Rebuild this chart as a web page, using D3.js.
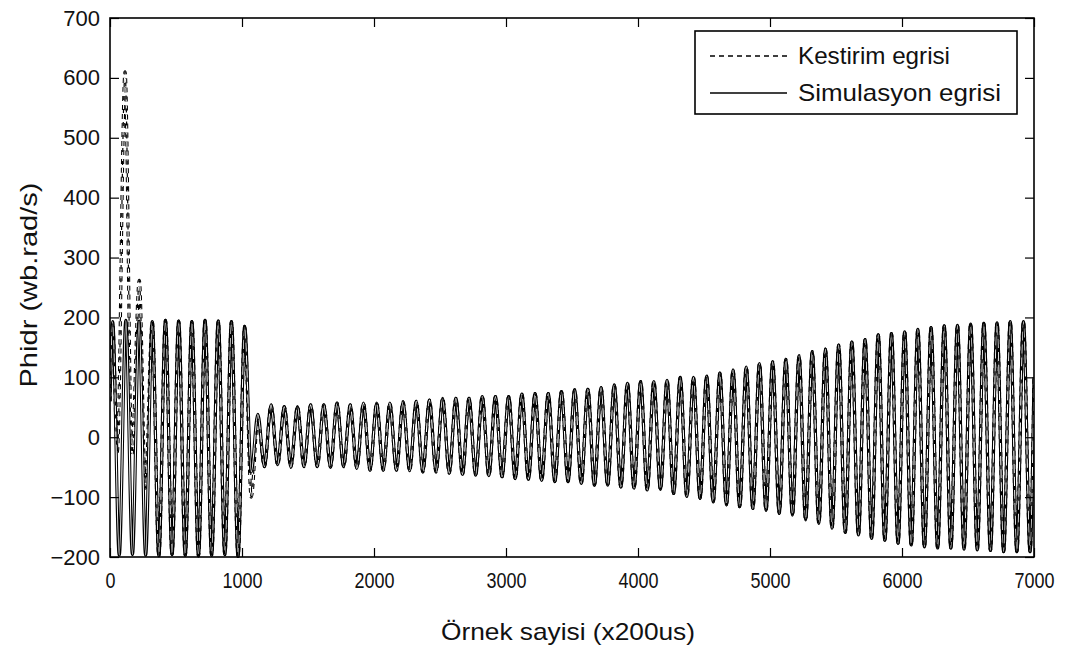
<!DOCTYPE html>
<html>
<head>
<meta charset="utf-8">
<script src="https://cdn.jsdelivr.net/npm/d3@7/dist/d3.min.js"></script>
<style>
  html, body { margin: 0; padding: 0; background: #fff; }
  svg { display: block; }
  text { font-family: "Liberation Sans", Arial, sans-serif; fill: #111; }
</style>
</head>
<body>
<svg id="chart" width="1068" height="653"></svg>
<script>
// Rotor flux (phi_dr) – simulated vs. estimated, sampled every 200 us.
// Each list holds the extrema of the 50 Hz oscillation (one peak and one
// trough per cycle), read per cycle.

const xTicks = [0, 1000, 2000, 3000, 4000, 5000, 6000, 7000];
const yTicks = [-200, -100, 0, 100, 200, 300, 400, 500, 600, 700];

const peakSamples = [
  20, 120, 220, 320, 420, 520, 620, 720, 820, 920,
  1020, 1120, 1220, 1320, 1420, 1520, 1620, 1720, 1820, 1920,
  2020, 2120, 2220, 2320, 2420, 2520, 2620, 2720, 2820, 2920,
  3020, 3120, 3220, 3320, 3420, 3520, 3620, 3720, 3820, 3920,
  4020, 4120, 4220, 4320, 4420, 4520, 4620, 4720, 4820, 4920,
  5020, 5120, 5220, 5320, 5420, 5520, 5620, 5720, 5820, 5920,
  6020, 6120, 6220, 6320, 6420, 6520, 6620, 6720, 6820, 6920
];
const peakValues = [
  193, 195, 194, 193, 195, 194, 193, 195, 194, 193,
  185, 38, 54, 51, 51, 54, 54, 57, 54, 57,
  57, 57, 59, 60, 62, 65, 65, 65, 68, 68,
  68, 72, 73, 73, 76, 79, 80, 83, 87, 90,
  93, 93, 95, 100, 100, 102, 107, 112, 117, 123,
  126, 130, 136, 143, 147, 154, 159, 163, 171, 173,
  176, 180, 183, 186, 187, 189, 190, 191, 193, 193
];
const troughSamples = [
  70, 170, 270, 370, 470, 570, 670, 770, 870, 970,
  1070, 1170, 1270, 1370, 1470, 1570, 1670, 1770, 1870, 1970,
  2070, 2170, 2270, 2370, 2470, 2570, 2670, 2770, 2870, 2970,
  3070, 3170, 3270, 3370, 3470, 3570, 3670, 3770, 3870, 3970,
  4070, 4170, 4270, 4370, 4470, 4570, 4670, 4770, 4870, 4970,
  5070, 5170, 5270, 5370, 5470, 5570, 5670, 5770, 5870, 5970,
  6070, 6170, 6270, 6370, 6470, 6570, 6670, 6770, 6870, 6970
];
const troughValues = [
  -197, -196, -197, -198, -196, -197, -198, -197, -196, -199,
  -58, -49, -46, -50, -49, -49, -50, -49, -52, -55,
  -55, -55, -56, -58, -58, -60, -62, -63, -64, -66,
  -69, -70, -72, -74, -74, -77, -80, -80, -83, -85,
  -88, -87, -94, -99, -102, -108, -113, -116, -119, -122,
  -127, -130, -138, -144, -152, -159, -163, -169, -172, -177,
  -180, -183, -185, -185, -187, -188, -189, -191, -191, -191
];
// first and last samples of the record
const edgeSamples = [0, 7000];
const edgeValues = [60, 100];

// estimator: start-up transient and the transient after the step at ~1000
const estStartSamples = [0, 20, 55, 114, 165, 222, 268];
const estStartValues = [60, 190, -25, 610, -30, 262, -85];
const estStepSamples = [1070, 1120];
const estStepValues = [-100, 30];

const seriesNames = ["Kestirim egrisi", "Simulasyon egrisi"];
const xLabel = "Örnek sayisi (x200us)";
const yLabel = "Phidr (wb.rad/s)";

// ---- build point lists --------------------------------------------------
const simulation = [];
simulation.push({ t: edgeSamples[0], v: edgeValues[0] });
peakSamples.forEach((t, i) => {
  simulation.push({ t, v: peakValues[i] });
  simulation.push({ t: troughSamples[i], v: troughValues[i] });
});
simulation.push({ t: edgeSamples[1], v: edgeValues[1] });

const estimate = []
  .concat(estStartSamples.map((t, i) => ({ t, v: estStartValues[i] })))
  .concat(simulation.filter(d => d.t >= 300 && d.t <= 1030))
  .concat(estStepSamples.map((t, i) => ({ t, v: estStepValues[i] })))
  .concat(simulation.filter(d => d.t >= 1160));

// ---- layout ---------------------------------------------------------------
const svg = d3.select("#chart");
const box = { left: 110, right: 1034, top: 18, bottom: 557 };

const x = d3.scaleLinear().domain([0, 7000]).range([box.left, box.right]);
const y = d3.scaleLinear().domain([-200, 700]).range([box.bottom, box.top]);

svg.append("defs").append("clipPath").attr("id", "plotClip")
  .append("rect")
  .attr("x", box.left).attr("y", box.top - 1)
  .attr("width", box.right - box.left).attr("height", box.bottom - box.top + 2);

const line = d3.line()
  .x(d => x(d.t))
  .y(d => y(d.v))
  .curve(d3.curveMonotoneX);

const plot = svg.append("g").attr("clip-path", "url(#plotClip)");

// estimated curve (dashed, hollow stroke)
plot.append("path").datum(estimate)
  .attr("d", line).attr("fill", "none")
  .attr("stroke", "#000").attr("stroke-width", 3.2)
  .attr("stroke-dasharray", "5,4");
plot.append("path").datum(estimate)
  .attr("d", line).attr("fill", "none")
  .attr("stroke", "#fff").attr("stroke-width", 1.1)
  .attr("stroke-dasharray", "5,4");

// simulated curve (solid, hollow stroke)
plot.append("path").datum(simulation)
  .attr("d", line).attr("fill", "none")
  .attr("stroke", "#000").attr("stroke-width", 3.2);
plot.append("path").datum(simulation)
  .attr("d", line).attr("fill", "none")
  .attr("stroke", "#fff").attr("stroke-width", 1.1);

// estimated curve core, partly filling the hollow strokes
plot.append("path").datum(estimate)
  .attr("d", line).attr("fill", "none")
  .attr("stroke", "#000").attr("stroke-width", 1.2)
  .attr("stroke-dasharray", "4,9");

// ---- axes (ticks inside, on all four sides) ------------------------------
const tickLen = 9;
function styleAxis(g) {
  g.select(".domain").remove();
  g.selectAll(".tick line").attr("stroke", "#000").attr("stroke-width", 1.2);
}

svg.append("g").attr("transform", `translate(0,${box.bottom})`)
  .call(d3.axisBottom(x).tickValues(xTicks).tickSize(-tickLen).tickPadding(15).tickFormat(d3.format("d")))
  .call(styleAxis)
  .call(g => g.selectAll(".tick text")
    .attr("font-size", 22).attr("fill", "#111")
    .attr("textLength", d => String(d).length * 10)
    .attr("lengthAdjust", "spacingAndGlyphs"));
svg.append("g").attr("transform", `translate(0,${box.top})`)
  .call(d3.axisTop(x).tickValues(xTicks).tickSize(-tickLen).tickFormat(""))
  .call(styleAxis);
svg.append("g").attr("transform", `translate(${box.left},0)`)
  .call(d3.axisLeft(y).tickValues(yTicks).tickSize(-tickLen).tickPadding(10).tickFormat(d3.format("d")))
  .call(styleAxis)
  .call(g => g.selectAll(".tick text").attr("font-size", 22).attr("fill", "#111"));
svg.append("g").attr("transform", `translate(${box.right},0)`)
  .call(d3.axisRight(y).tickValues(yTicks).tickSize(-tickLen).tickFormat(""))
  .call(styleAxis);

// frame
svg.append("rect")
  .attr("x", box.left).attr("y", box.top)
  .attr("width", box.right - box.left).attr("height", box.bottom - box.top)
  .attr("fill", "none").attr("stroke", "#000").attr("stroke-width", 1.6);

// ---- axis titles -----------------------------------------------------------
svg.append("text")
  .attr("x", 568).attr("y", 640)
  .attr("text-anchor", "middle").attr("font-size", 24)
  .attr("textLength", 254).attr("lengthAdjust", "spacingAndGlyphs")
  .text(xLabel);

svg.append("text")
  .attr("transform", `translate(37,285) rotate(-90)`)
  .attr("text-anchor", "middle").attr("font-size", 24)
  .attr("textLength", 205).attr("lengthAdjust", "spacingAndGlyphs")
  .text(yLabel);

// ---- legend ----------------------------------------------------------------
const legend = svg.append("g");
legend.append("rect")
  .attr("x", 695).attr("y", 31).attr("width", 322).attr("height", 83)
  .attr("fill", "#fff").attr("stroke", "#000").attr("stroke-width", 1.6);

const legendRows = [
  { name: seriesNames[0], dash: "5,4", cy: 56, len: 152 },
  { name: seriesNames[1], dash: null, cy: 93, len: 203 }
];
legendRows.forEach(r => {
  legend.append("line")
    .attr("x1", 710).attr("x2", 787).attr("y1", r.cy).attr("y2", r.cy)
    .attr("stroke", "#000").attr("stroke-width", 1.3)
    .attr("stroke-dasharray", r.dash);
  legend.append("text")
    .attr("x", 798).attr("y", r.cy + 8)
    .attr("font-size", 24)
    .attr("textLength", r.len).attr("lengthAdjust", "spacingAndGlyphs")
    .text(r.name);
});
</script>
</body>
</html>
